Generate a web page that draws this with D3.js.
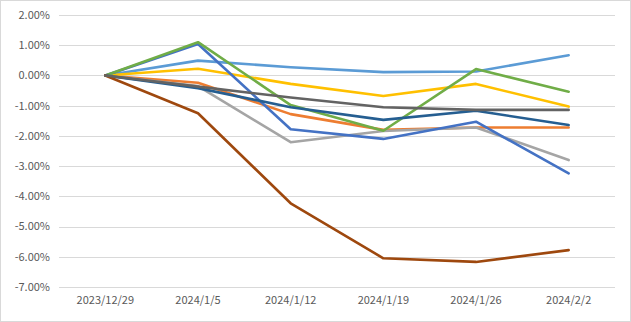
<!DOCTYPE html>
<html><head><meta charset="utf-8">
<script src="https://cdn.jsdelivr.net/npm/d3@7"></script>
<style>body{margin:0;background:#fff}svg{display:block}</style>
</head><body>
<svg id="c" width="631" height="322"></svg>
<script>
const categories = ["2023/12/29","2024/1/5","2024/1/12","2024/1/19","2024/1/26","2024/2/2"];
const yTicks = [2,1,0,-1,-2,-3,-4,-5,-6,-7];
const s1 = [0, 0.49, 0.27, 0.11, 0.13, 0.67];
const s2 = [0, -0.24, -1.28, -1.80, -1.72, -1.72];
const s3 = [0, -0.35, -2.21, -1.84, -1.72, -2.80];
const s4 = [0, 0.22, -0.28, -0.68, -0.28, -1.03];
const s5 = [0, 1.04, -1.78, -2.10, -1.53, -3.24];
const s6 = [0, 1.10, -0.98, -1.83, 0.21, -0.54];
const s7 = [0, -0.42, -1.05, -1.47, -1.17, -1.64];
const s8 = [0, -1.25, -4.23, -6.05, -6.17, -5.78];
const s9 = [0, -0.37, -0.73, -1.05, -1.14, -1.14];
const seriesValues = [s1,s2,s3,s4,s5,s6,s7,s8,s9];
const colors = ["#5B9BD5","#ED7D31","#A5A5A5","#FFC000","#4472C4","#70AD47","#255E91","#9E480E","#636363"];

const svg = d3.select("#c");
svg.append("rect").attr("x",0.5).attr("y",0.5).attr("width",630).attr("height",321)
  .attr("fill","#fff").attr("stroke","#D9D9D9");
const pLeft = 59, pRight = 615, pTop = 15, pBottom = 287;
const x = d3.scaleBand().domain(categories).range([pLeft,pRight]);
const y = d3.scaleLinear().domain([-7,2]).range([pBottom,pTop]);
const font = "'Microsoft YaHei','Noto Sans CJK SC','DejaVu Sans',sans-serif";

svg.append("g").selectAll("line").data(yTicks).join("line")
  .attr("x1",pLeft).attr("x2",pRight)
  .attr("y1",d=>Math.round(y(d))+0.5).attr("y2",d=>Math.round(y(d))+0.5)
  .attr("stroke","#D9D9D9").attr("stroke-width",1);

svg.append("g").selectAll("text").data(yTicks).join("text")
  .attr("x",50).attr("y",d=>y(d)).attr("dy","0.35em").attr("text-anchor","end")
  .attr("fill","#595959").attr("font-family",font).attr("font-size",11)
  .text(d=>d3.format(".2f")(d).replace("−","-")+"%");

svg.append("g").selectAll("text").data(categories).join("text")
  .attr("x",d=>x(d)+x.bandwidth()/2).attr("y",304).attr("text-anchor","middle")
  .attr("fill","#595959").attr("font-family",font).attr("font-size",11)
  .text(d=>d);

const line = d3.line().x((d,i)=>x(categories[i])+x.bandwidth()/2).y(d=>y(d));
seriesValues.forEach((vals,k)=>{
  svg.append("path").datum(vals).attr("d",line).attr("fill","none")
    .attr("stroke",colors[k]).attr("stroke-width",2.6)
    .attr("stroke-linejoin","round").attr("stroke-linecap","round");
});
</script>
</body></html>
